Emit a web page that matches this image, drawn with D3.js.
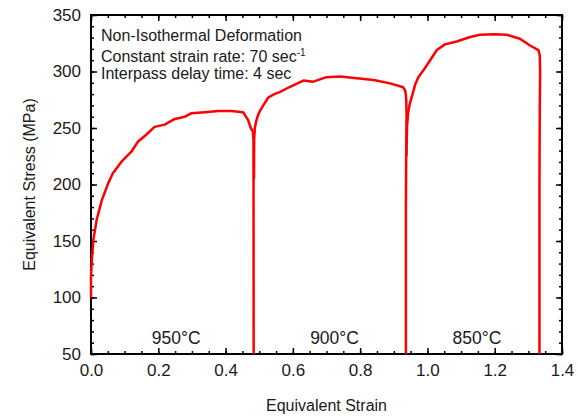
<!DOCTYPE html>
<html>
<head>
<meta charset="utf-8">
<script src="https://cdn.jsdelivr.net/npm/d3@7"></script>
<style>
  body { margin: 0; background: #fff; }
  text { font-family: "Liberation Sans", Arial, sans-serif; fill: #1a1a1a; }
</style>
</head>
<body>
<svg id="chart" width="578" height="418"></svg>
<script>
(function () {
    'use strict';

    // pass 1 (950 C)
    var pass1Strain = [0, 0, 0.002, 0.007, 0.017, 0.032, 0.051, 0.065, 0.09, 0.12, 0.14, 0.164, 0.189, 0.219, 0.249, 0.279, 0.298, 0.338, 0.378, 0.417, 0.452, 0.467, 0.475, 0.481, 0.483, 0.4835];
    var pass1Stress = [100, 118, 131, 151, 169, 186, 201, 210, 220, 229, 238, 244, 251, 253, 258, 260, 263, 264, 265, 265, 264, 257, 250, 247, 240, 50];
    // pass 2 (900 C)
    var pass2Strain = [0.4845, 0.485, 0.487, 0.491, 0.496, 0.502, 0.512, 0.527, 0.545, 0.562, 0.592, 0.631, 0.661, 0.70, 0.74, 0.79, 0.84, 0.889, 0.928, 0.934, 0.937, 0.938, 0.937, 0.936, 0.936];
    var pass2Stress = [205, 240, 250, 256, 261, 265, 270, 277, 280, 282, 286.5, 292, 291, 295, 295.5, 294, 292.5, 289.5, 286, 283, 276, 262, 230, 180, 50];
    // pass 3 (850 C)
    var pass3Strain = [0.9375, 0.9395, 0.943, 0.948, 0.955, 0.963, 0.973, 0.988, 1.008, 1.028, 1.052, 1.087, 1.127, 1.156, 1.196, 1.236, 1.275, 1.305, 1.33, 1.334, 1.335, 1.334, 1.333, 1.333];
    var pass3Stress = [225, 252, 264, 272, 279, 288, 295, 301, 310, 319, 324, 326.5, 330.5, 332.5, 333, 332.5, 329, 323, 319, 314, 300, 270, 200, 50];

    var passLabels = ['950°C', '900°C', '850°C'];
    var passLabelStrain = [0.253, 0.724, 1.147];
    var noteLines = ['Non-Isothermal Deformation', 'Constant strain rate: 70 sec', 'Interpass delay time: 4 sec'];

    var xTicks = [0, 0.2, 0.4, 0.6, 0.8, 1.0, 1.2, 1.4];
    var yTicks = [50, 100, 150, 200, 250, 300, 350];

    var margin = {top: 15, right: 16, bottom: 64, left: 91},
        width = 578 - margin.left - margin.right,
        height = 418 - margin.top - margin.bottom;

    var svg = d3.select('#chart'),
        g = svg.append('g').attr('transform', 'translate(' + margin.left + ',' + margin.top + ')');

    var x = d3.scaleLinear().domain([0, 1.4]).range([0, width]);
    var y = d3.scaleLinear().domain([50, 350]).range([height, 0]);

    var xMinor = d3.range(0, 1.4001, 0.05),
        yMinor = d3.range(50, 350.01, 10);

    function styleAxis(sel) {
        sel.select('.domain').remove();
        sel.selectAll('line').attr('stroke', '#000').attr('stroke-width', 1.5);
        sel.selectAll('text').style('font-size', '17px').attr('fill', '#1a1a1a');
    }

    // minor ticks, all four sides, pointing in
    g.append('g').attr('transform', 'translate(0,' + height + ')')
        .call(d3.axisBottom(x).tickValues(xMinor).tickSize(-3).tickFormat(''))
        .call(styleAxis);
    g.append('g')
        .call(d3.axisTop(x).tickValues(xMinor).tickSize(-3).tickFormat(''))
        .call(styleAxis);
    g.append('g')
        .call(d3.axisLeft(y).tickValues(yMinor).tickSize(-3).tickFormat(''))
        .call(styleAxis);
    g.append('g').attr('transform', 'translate(' + width + ',0)')
        .call(d3.axisRight(y).tickValues(yMinor).tickSize(-3).tickFormat(''))
        .call(styleAxis);

    // major ticks
    g.append('g').attr('transform', 'translate(0,' + height + ')')
        .call(d3.axisBottom(x).tickValues(xTicks).tickSize(-6).tickPadding(10).tickFormat(d3.format('.1f')))
        .call(styleAxis);
    g.append('g')
        .call(d3.axisTop(x).tickValues(xTicks).tickSize(-6).tickFormat(''))
        .call(styleAxis);
    g.append('g')
        .call(d3.axisLeft(y).tickValues(yTicks).tickSize(-6).tickPadding(10).tickFormat(d3.format('d')))
        .call(styleAxis);
    g.append('g').attr('transform', 'translate(' + width + ',0)')
        .call(d3.axisRight(y).tickValues(yTicks).tickSize(-6).tickFormat(''))
        .call(styleAxis);

    g.append('rect')
        .attr('width', width).attr('height', height)
        .attr('fill', 'none').attr('stroke', '#000').attr('stroke-width', 2);

    // curves
    var line = d3.line()
        .x(function (d) { return x(d[0]); })
        .y(function (d) { return y(d[1]); });

    [[pass1Strain, pass1Stress], [pass2Strain, pass2Stress], [pass3Strain, pass3Stress]].forEach(function (p) {
        g.append('path')
            .datum(d3.zip(p[0], p[1]))
            .attr('d', line)
            .attr('fill', 'none')
            .attr('stroke', '#ff0000')
            .attr('stroke-width', 2.5)
            .attr('stroke-linejoin', 'round');
    });

    // temperature labels
    g.selectAll('.passLabel')
        .data(passLabels)
        .enter().append('text')
        .attr('class', 'passLabel')
        .attr('x', function (d, i) { return x(passLabelStrain[i]); })
        .attr('y', y(59))
        .attr('text-anchor', 'middle')
        .style('font-size', '17.5px')
        .text(function (d) { return d; });

    // note
    var noteY = [26, 46.5, 64];
    noteLines.forEach(function (t, i) {
        var txt = g.append('text')
            .attr('x', 10)
            .attr('y', noteY[i])
            .style('font-size', '16px')
            .text(t);
        if (i === 1) {
            txt.append('tspan')
                .attr('dy', -6)
                .style('font-size', '10px')
                .text('-1');
        }
    });

    // axis titles
    svg.append('text')
        .attr('x', margin.left + width / 2)
        .attr('y', 411)
        .attr('text-anchor', 'middle')
        .style('font-size', '16px')
        .text('Equivalent Strain');

    svg.append('text')
        .attr('transform', 'translate(35,' + (margin.top + height / 2) + ') rotate(-90)')
        .attr('text-anchor', 'middle')
        .style('font-size', '16px')
        .text('Equivalent Stress (MPa)');
}());
</script>
</body>
</html>
